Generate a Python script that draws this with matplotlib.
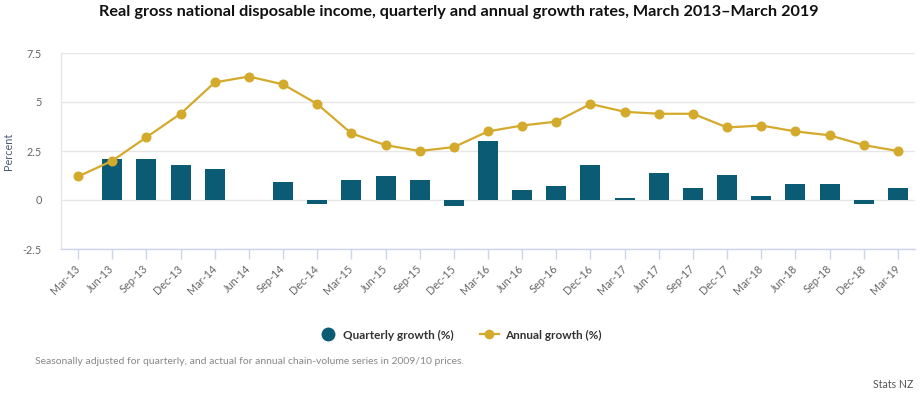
import matplotlib
matplotlib.use("Agg")
import matplotlib.pyplot as plt
from matplotlib.lines import Line2D
import numpy as np

categories = ["Mar-13", "Jun-13", "Sep-13", "Dec-13", "Mar-14", "Jun-14", "Sep-14", "Dec-14",
              "Mar-15", "Jun-15", "Sep-15", "Dec-15", "Mar-16", "Jun-16", "Sep-16", "Dec-16",
              "Mar-17", "Jun-17", "Sep-17", "Dec-17", "Mar-18", "Jun-18", "Sep-18", "Dec-18", "Mar-19"]
quarterly = [np.nan, 2.1, 2.1, 1.8, 1.6, 0.0, 0.9, -0.2,
             1.0, 1.2, 1.0, -0.3, 3.0, 0.5, 0.7, 1.8,
             0.1, 1.4, 0.6, 1.3, 0.2, 0.8, 0.8, -0.2, 0.6]
annual = [1.2, 2.0, 3.2, 4.4, 6.0, 6.3, 5.9, 4.9,
          3.4, 2.8, 2.5, 2.7, 3.5, 3.8, 4.0, 4.9,
          4.5, 4.4, 4.4, 3.7, 3.8, 3.5, 3.3, 2.8, 2.5]
yticks = [-2.5, 0, 2.5, 5, 7.5]
ytick_labels = ["-2.5", "0", "2.5", "5", "7.5"]

title = "Real gross national disposable income, quarterly and annual growth rates, March 2013\u2013March 2019"
footnote = "Seasonally adjusted for quarterly, and actual for annual chain-volume series in 2009/10 prices."
credit = "Stats NZ"

BAR = "#0b5b75"
LINE = "#d4aa2c"
GRID = "#e6e6e6"
AXIS = "#ccd6eb"
LABEL = "#666666"

plt.rcParams['font.family'] = ['Lato', 'DejaVu Sans']

W, H = 923, 399
fig = plt.figure(figsize=(W / 100, H / 100), dpi=100)
ax = fig.add_axes([61 / W, 1 - 249 / H, (915 - 61) / W, (249 - 53) / H])

x = np.arange(len(categories))
ax.bar(x, quarterly, width=0.586, color=BAR, zorder=2)
ax.plot(x, annual, color=LINE, lw=1.6, marker='o', markersize=6.2, zorder=3)

ax.set_xlim(-0.5, len(categories) - 0.5)
ax.set_ylim(-2.5, 7.5)
ax.set_yticks(yticks)
ax.set_yticklabels(ytick_labels)
ax.yaxis.grid(True, color=GRID, lw=1)
ax.set_axisbelow(True)
ax.tick_params(axis='y', length=0, pad=14, labelsize=7.8, labelcolor=LABEL)

ax.set_xticks(x)
ax.set_xticklabels(categories, rotation=45, ha='right', va='center', rotation_mode='anchor')
ax.tick_params(axis='x', length=7, width=1, color=AXIS, pad=6, labelsize=7.8, labelcolor=LABEL)

for s in ['top', 'right']:
    ax.spines[s].set_visible(False)
ax.spines['bottom'].set_color(AXIS)
ax.spines['bottom'].set_linewidth(1)
ax.spines['left'].set_color(GRID)
ax.spines['left'].set_linewidth(1)

ax.set_ylabel("Percent", fontsize=7.8, color="#4a5a70")
ax.yaxis.set_label_coords((14 - 61) / (915 - 61), 0.5)

fig.text(459 / W, 1 - 12 / H, title, ha='center', va='center', fontsize=11.7,
         fontweight='bold', color='#111111')

handles = [
    Line2D([], [], color=BAR, marker='o', linestyle='none', markersize=9),
    Line2D([], [], color=LINE, marker='o', lw=1.6, markersize=6),
]
leg = fig.legend(handles, ["Quarterly growth (%)", "Annual growth (%)"], loc='center',
                 bbox_to_anchor=(460 / W, 1 - 335 / H), ncol=2, frameon=False,
                 prop={'weight': 'bold', 'size': 8.5}, handlelength=1.6, handletextpad=0.5,
                 columnspacing=2.2)
for t in leg.get_texts():
    t.set_color('#333333')

fig.text(35 / W, 1 - 362 / H, footnote, ha='left', va='center', fontsize=7.5, color='#888888')
fig.text(913 / W, 1 - 385 / H, credit, ha='right', va='center', fontsize=7.6, color='#555555')

fig.savefig("out.png", dpi=100)
